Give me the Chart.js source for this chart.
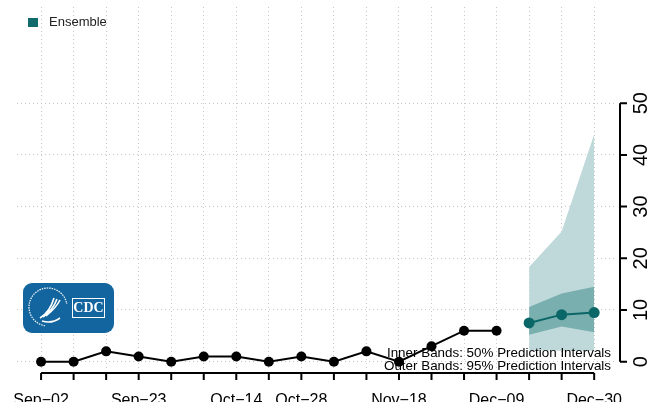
<!DOCTYPE html>
<html>
<head>
<meta charset="utf-8">
<script src="https://cdn.jsdelivr.net/npm/chart.js@4.4.1/dist/chart.umd.min.js"></script>
<style>
  html, body { margin: 0; padding: 0; background: #fff; }
  #wrap { width: 653px; height: 402px; }
</style>
</head>
<body>
<div id="wrap"><canvas id="chart"></canvas></div>
<script>
// weekly dates, Sep-02 .. Dec-30
const weeks = ["Sep−02", "Sep−09", "Sep−16", "Sep−23", "Sep−30", "Oct−07", "Oct−14", "Oct−21", "Oct−28",
    "Nov−04", "Nov−11", "Nov−18", "Nov−25", "Dec−02", "Dec−09", "Dec−16", "Dec−23", "Dec−30"];
const shownLabels = ["Sep−02", "Sep−23", "Oct−14", "Oct−28", "Nov−18", "Dec−09", "Dec−30"];

// observed counts (first 15 weeks)
const observed = [0, 0, 2, 1, 0, 1, 1, 0, 1, 0, 2, 0, 3, 6, 6];

// ensemble forecast for the last 3 weeks
const forecastWeeks = ["Dec−16", "Dec−23", "Dec−30"];
const median = [7.5, 9.1, 9.5];
const inner50Low = [5.2, 6.8, 5.7];
const inner50High = [10.6, 13.2, 14.5];
const outer95Low = [2.2, 2.1, 2.1];
const outer95High = [18.3, 25.2, 44];

const yTicks = [0, 10, 20, 30, 40, 50];

var teal = "#0b6767";
var outerColor = "#bfd9db";
var innerColor = "#7aafb0";

function toPts(names, vals) {
    return vals.map(function (v, i) { return { x: weeks.indexOf(names[i]), y: v }; });
}

var band = { pointRadius: 0, borderWidth: 0, showLine: true, tension: 0 };

var axesPlugin = {
    id: "rstyle",
    afterDraw: function (chart) {
        var ctx = chart.ctx;
        var xs = chart.scales.x, ys = chart.scales.y;
        ctx.save();

        // x axis line + ticks
        var axY = 373;
        ctx.strokeStyle = "#000";
        ctx.lineWidth = 2;
        ctx.beginPath();
        ctx.moveTo(xs.getPixelForValue(0), axY);
        ctx.lineTo(xs.getPixelForValue(weeks.length - 1), axY);
        weeks.forEach(function (w, i) {
            var px = xs.getPixelForValue(i);
            ctx.moveTo(px, axY);
            ctx.lineTo(px, axY + 7);
        });
        ctx.stroke();
        ctx.fillStyle = "#000";
        ctx.font = "16px 'Liberation Sans', Arial, sans-serif";
        ctx.textAlign = "center";
        ctx.textBaseline = "alphabetic";
        shownLabels.forEach(function (l) {
            ctx.fillText(l, xs.getPixelForValue(weeks.indexOf(l)), 405);
        });

        // y axis on the right
        var axX = 620;
        ctx.beginPath();
        ctx.moveTo(axX, ys.getPixelForValue(0));
        ctx.lineTo(axX, ys.getPixelForValue(50));
        yTicks.forEach(function (t) {
            var py = ys.getPixelForValue(t);
            ctx.moveTo(axX, py);
            ctx.lineTo(axX + 7, py);
        });
        ctx.stroke();
        ctx.font = "20px 'Liberation Sans', Arial, sans-serif";
        yTicks.forEach(function (t) {
            ctx.save();
            ctx.translate(647, ys.getPixelForValue(t));
            ctx.rotate(-Math.PI / 2);
            ctx.fillText(String(t), 0, 0);
            ctx.restore();
        });

        // legend
        ctx.fillStyle = "#116a6b";
        ctx.fillRect(28, 18, 10, 9);
        ctx.fillStyle = "#222";
        ctx.font = "13px 'Liberation Sans', Arial, sans-serif";
        ctx.textAlign = "left";
        ctx.textBaseline = "middle";
        ctx.fillText("Ensemble", 49, 22.5);

        // band note
        ctx.textAlign = "right";
        ctx.fillStyle = "#000";
        ctx.font = "13.4px 'Liberation Sans', Arial, sans-serif";
        ctx.fillText("Inner Bands: 50% Prediction Intervals", 611, 353);
        ctx.fillText("Outer Bands: 95% Prediction Intervals", 611, 366);

        // CDC badge
        ctx.fillStyle = "#13659f";
        ctx.beginPath();
        ctx.roundRect(23, 283, 91, 50, 9);
        ctx.fill();
        ctx.strokeStyle = "#fff";
        ctx.lineWidth = 1.2;
        ctx.setLineDash([1.5, 1]);
        ctx.beginPath();
        ctx.arc(48, 307, 19, Math.PI * 0.55, Math.PI * 1.95);
        ctx.stroke();
        ctx.setLineDash([]);
        ctx.lineWidth = 1.6;
        ctx.beginPath();
        for (var k = 0; k < 3; k++) {
            ctx.moveTo(40 + k * 3, 318 - k);
            ctx.quadraticCurveTo(50 + k * 3, 312 - k * 2, 54 + k * 3, 298 + k);
        }
        ctx.moveTo(42, 321);
        ctx.quadraticCurveTo(52, 324, 60, 318);
        ctx.stroke();
        ctx.lineWidth = 1;
        ctx.strokeRect(72.5, 298.5, 32, 19);
        ctx.fillStyle = "#fff";
        ctx.font = "bold 14px 'Liberation Serif', 'DejaVu Serif', serif";
        ctx.textAlign = "center";
        ctx.fillText("CDC", 88.5, 308.5);

        ctx.restore();
    }
};

new Chart(document.getElementById("chart"), {
    type: "line",
    data: {
        datasets: [
            Object.assign({ data: toPts(forecastWeeks, outer95Low), fill: false, order: 6 }, band),
            Object.assign({ data: toPts(forecastWeeks, outer95High), fill: "-1", backgroundColor: outerColor, order: 5 }, band),
            Object.assign({ data: toPts(forecastWeeks, inner50Low), fill: false, order: 4 }, band),
            Object.assign({ data: toPts(forecastWeeks, inner50High), fill: "-1", backgroundColor: innerColor, order: 3 }, band),
            {
                label: "Observed",
                data: toPts(weeks, observed),
                borderColor: "#000",
                backgroundColor: "#000",
                borderWidth: 2,
                pointRadius: 5,
                pointBorderWidth: 0,
                tension: 0,
                order: 2
            },
            {
                label: "Ensemble",
                data: toPts(forecastWeeks, median),
                borderColor: teal,
                backgroundColor: teal,
                borderWidth: 2,
                pointRadius: 5.5,
                pointBorderWidth: 0,
                tension: 0,
                order: 1
            }
        ]
    },
    options: {
        responsive: true,
        maintainAspectRatio: false,
        animation: false,
        layout: { padding: { left: 17, right: 38, top: 7, bottom: 31 } },
        plugins: { legend: { display: false }, tooltip: { enabled: false } },
        scales: {
            x: {
                type: "linear",
                min: -0.74,
                max: 17.64,
                afterBuildTicks: function (s) { s.ticks = weeks.map(function (w, i) { return { value: i }; }); },
                ticks: { display: false },
                grid: { color: "#c8c8c8", lineWidth: 1, drawTicks: false },
                border: { display: false, dash: [1, 3] }
            },
            y: {
                position: "right",
                min: -1.8,
                max: 68.6,
                afterBuildTicks: function (s) { s.ticks = yTicks.map(function (v) { return { value: v }; }); },
                ticks: { display: false },
                grid: { color: "#c8c8c8", lineWidth: 1, drawTicks: false },
                border: { display: false, dash: [1, 3] }
            }
        }
    },
    plugins: [axesPlugin]
});
</script>
</body>
</html>
